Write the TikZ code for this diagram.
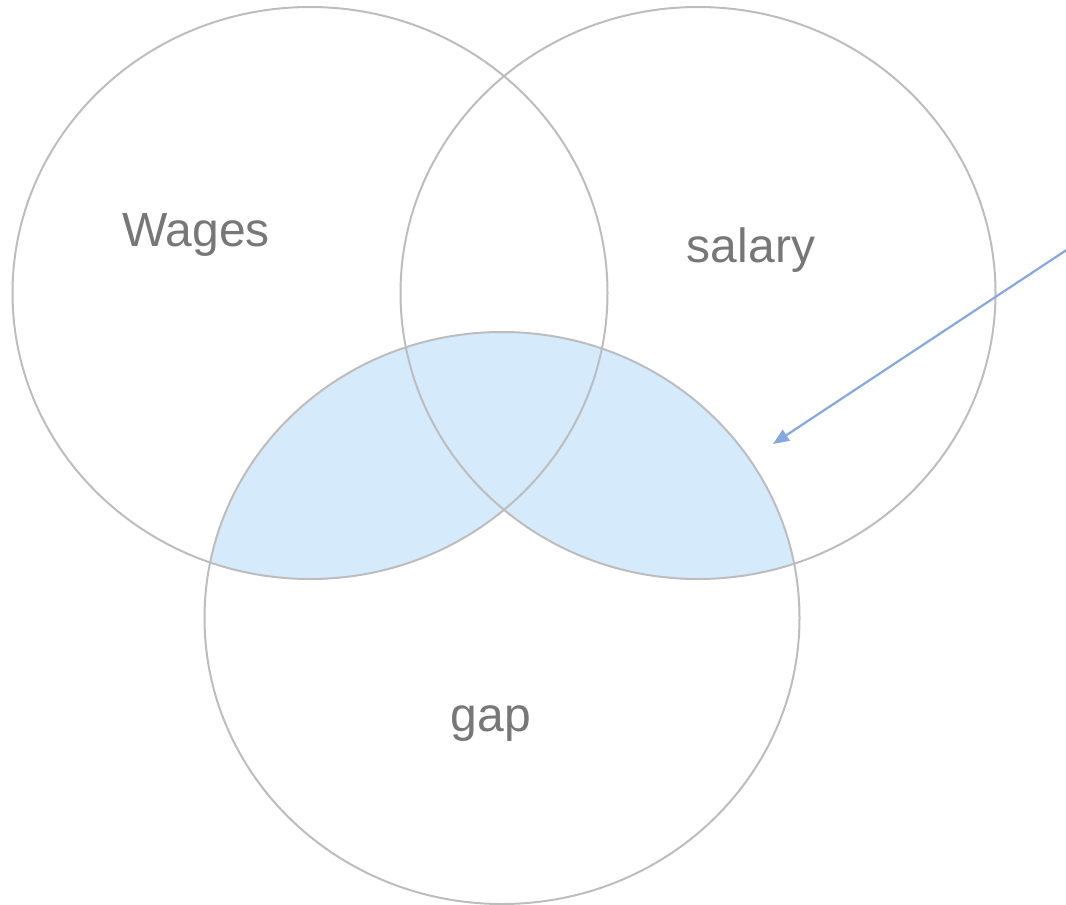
\documentclass[tikz,border=0pt]{standalone}
\usepackage{fontspec}
\setmainfont{Liberation Sans}
\usetikzlibrary{arrows.meta}
\definecolor{edgegray}{HTML}{BDBDBD}
\definecolor{vennfill}{HTML}{D5EAFB}
\definecolor{txtgray}{HTML}{777777}
\definecolor{arrowblue}{HTML}{86A8E0}
\tikzset{
  setline/.style={draw=edgegray, line width=2pt},
  lbl/.style={text=txtgray, font=\fontsize{48}{48}\selectfont, anchor=base, inner sep=0pt},
  pointer/.style={draw=arrowblue, line width=2.2pt, -{Triangle[length=16pt,width=13pt]}}
}
\begin{document}
\begin{tikzpicture}[x=1pt,y=-1pt]
\useasboundingbox (0,0) rectangle (1066,905);
\coordinate (wc) at (310,293);
\coordinate (sc) at (698,293);
\coordinate (gc) at (502,618);
\begin{scope}
  \clip (gc) ellipse [x radius=297.5, y radius=286];
  \fill[vennfill] (wc) ellipse [x radius=297.5, y radius=286];
  \fill[vennfill] (sc) ellipse [x radius=297.5, y radius=286];
\end{scope}
\draw[setline] (wc) ellipse [x radius=297.5, y radius=286];
\draw[setline] (sc) ellipse [x radius=297.5, y radius=286];
\draw[setline] (gc) ellipse [x radius=297.5, y radius=286];
\node[lbl] (wages) at (196,246) {Wages};
\node[lbl] (salary) at (751,262) {salary};
\node[lbl] (gap) at (491,731) {gap};
\coordinate (src) at (1068,249);
\coordinate (tip) at (773,444);
\draw[pointer] (src) -- (tip);
\end{tikzpicture}
\end{document}
